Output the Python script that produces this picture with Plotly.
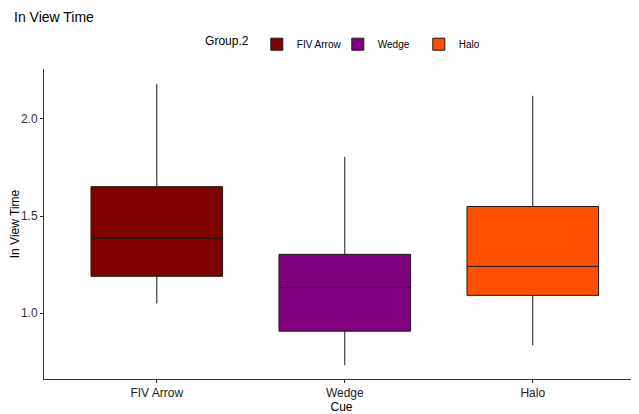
import plotly.graph_objects as go

categories = ["FIV Arrow", "Wedge", "Halo"]
colors = ["#800000", "#800080", "#FF4F00"]
lower_whisker = [1.051, 0.733, 0.836]
q1 = [1.19, 0.908, 1.092]
median = [1.385, 1.133, 1.241]
q3 = [1.651, 1.303, 1.549]
upper_whisker = [2.179, 1.805, 2.118]
y_ticks = [1.0, 1.5, 2.0]

fig = go.Figure()
for i, cat in enumerate(categories):
    fig.add_trace(go.Box(
        name=cat,
        x=[i + 1],
        q1=[q1[i]], median=[median[i]], q3=[q3[i]],
        lowerfence=[lower_whisker[i]], upperfence=[upper_whisker[i]],
        fillcolor=colors[i],
        line=dict(color="#1a1a1a", width=1),
        whiskerwidth=0,
        width=0.7,
        boxpoints=False,
        showlegend=True,
    ))

fig.update_layout(
    width=631, height=406,
    paper_bgcolor="white", plot_bgcolor="white",
    font=dict(family="Liberation Sans, Arial, sans-serif", color="#222222"),
    title=dict(text="In View Time", x=6 / 631, xref="container", xanchor="left",
               y=0.99, yanchor="top", pad=dict(l=0, t=0, r=0, b=0),
               font=dict(size=14, color="black")),
    margin=dict(l=36, r=0, t=61, b=35, autoexpand=False),
    showlegend=True,
    legend=dict(orientation="h", x=0.517, xanchor="center", y=1.08, yanchor="middle",
                title=dict(text="Group.2", font=dict(size=12, color="black")),
                font=dict(size=10, color="black"), itemwidth=30, tracegroupgap=0,
                entrywidth=36, entrywidthmode="pixels"),
    xaxis=dict(range=[0.4, 3.565], tickmode="array", tickvals=[1, 2, 3], ticktext=categories,
               showline=True, linecolor="#333333", linewidth=1, ticks="outside",
               ticklen=3, tickcolor="#333333", showgrid=False, zeroline=False,
               automargin=False,
               tickfont=dict(size=12, color="#222222"),
               title=dict(text="Cue", font=dict(size=12, color="black"), standoff=0)),
    yaxis=dict(range=[0.662, 2.256], tickmode="array", tickvals=y_ticks,
               ticktext=["1.0", "1.5", "2.0"],
               showline=True, linecolor="#333333", linewidth=1, ticks="outside",
               ticklen=3, tickcolor="#333333", showgrid=False, zeroline=False,
               automargin=False,
               tickfont=dict(size=12, color="#333333"),
               title=dict(text="In View Time", font=dict(size=12, color="black"), standoff=2)),
)

fig.write_html("out.html")
